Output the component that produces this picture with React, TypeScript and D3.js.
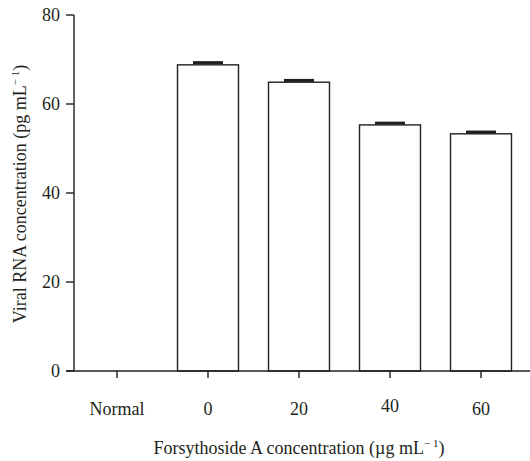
import * as d3 from 'd3';
import { useEffect, useRef } from 'react';

const categories = ['Normal', '0', '20', '40', '60'];
const values = [0, 68.8, 64.9, 55.3, 53.3];
const errors = [0, 0.5, 0.4, 0.4, 0.4];
const yTicks = [0, 20, 40, 60, 80];

export default function App() {
  const ref = useRef<SVGSVGElement>(null);

  useEffect(() => {
    const svg = d3.select(ref.current);
    svg.selectAll('*').remove();

    const ink = '#231f20';
    const font = 'Liberation Serif, serif';

    const x = d3.scaleBand<string>()
      .domain(categories)
      .range([71.5, 526.5])
      .paddingInner(0.33)
      .paddingOuter(0.165);
    const y = d3.scaleLinear().domain([0, 80]).range([371, 15]);

    const g = svg.append('g');
    const rows = categories.map((c, i) => ({ c, v: values[i], e: errors[i] })).filter(d => d.v > 0);

    // bars
    g.selectAll('rect.bar')
      .data(rows)
      .enter()
      .append('rect')
      .attr('class', 'bar')
      .attr('x', d => x(d.c)!)
      .attr('y', d => y(d.v))
      .attr('width', x.bandwidth())
      .attr('height', d => y(0) - y(d.v))
      .attr('fill', '#fff')
      .attr('stroke', ink)
      .attr('stroke-width', 1.4);

    // error caps
    g.selectAll('line.err')
      .data(rows)
      .enter()
      .append('line')
      .attr('x1', d => x(d.c)! + x.bandwidth() / 2 - 15)
      .attr('x2', d => x(d.c)! + x.bandwidth() / 2 + 15)
      .attr('y1', d => y(d.v + d.e))
      .attr('y2', d => y(d.v + d.e))
      .attr('stroke', ink)
      .attr('stroke-width', 3);

    // y axis
    g.append('line')
      .attr('x1', 74).attr('x2', 74)
      .attr('y1', y(80)).attr('y2', y(0))
      .attr('stroke', ink).attr('stroke-width', 1.4);
    yTicks.forEach(t => {
      g.append('line')
        .attr('x1', 66).attr('x2', 74)
        .attr('y1', y(t)).attr('y2', y(t))
        .attr('stroke', ink).attr('stroke-width', 1.4);
      g.append('text')
        .attr('x', 60).attr('y', y(t))
        .attr('dy', '0.35em')
        .attr('text-anchor', 'end')
        .attr('font-family', font)
        .attr('font-size', 18)
        .attr('fill', ink)
        .text(t);
    });

    // x axis
    g.append('line')
      .attr('x1', 66).attr('x2', 530)
      .attr('y1', y(0)).attr('y2', y(0))
      .attr('stroke', ink).attr('stroke-width', 1.4);
    categories.forEach(c => {
      const cx = x(c)! + x.bandwidth() / 2;
      g.append('line')
        .attr('x1', cx).attr('x2', cx)
        .attr('y1', y(0)).attr('y2', y(0) + 7)
        .attr('stroke', ink).attr('stroke-width', 1.4);
      g.append('text')
        .attr('x', cx).attr('y', c === '40' ? 412 : 415)
        .attr('text-anchor', 'middle')
        .attr('font-family', font)
        .attr('font-size', 18)
        .attr('fill', ink)
        .text(c);
    });

    // axis titles
    const xt = g.append('text')
      .attr('x', 299).attr('y', 454)
      .attr('text-anchor', 'middle')
      .attr('font-family', font)
      .attr('font-size', 18)
      .attr('fill', ink);
    xt.append('tspan').text('Forsythoside A concentration (\u00b5g mL');
    xt.append('tspan').attr('dy', -7).attr('font-size', 11).text('\u2212 1');
    xt.append('tspan').attr('dy', 7).text(')');

    const yt = g.append('text')
      .attr('transform', 'translate(26,194) rotate(-90)')
      .attr('text-anchor', 'middle')
      .attr('font-family', font)
      .attr('font-size', 18)
      .attr('fill', ink);
    yt.append('tspan').text('Viral RNA concentration (pg mL');
    yt.append('tspan').attr('dy', -7).attr('font-size', 11).text('\u2212 1');
    yt.append('tspan').attr('dy', 7).text(')');
  }, []);

  return (
    <svg
      ref={ref}
      width={530}
      height={461}
      style={{ position: 'absolute', left: 0, top: 0, background: '#fff' }}
    />
  );
}
